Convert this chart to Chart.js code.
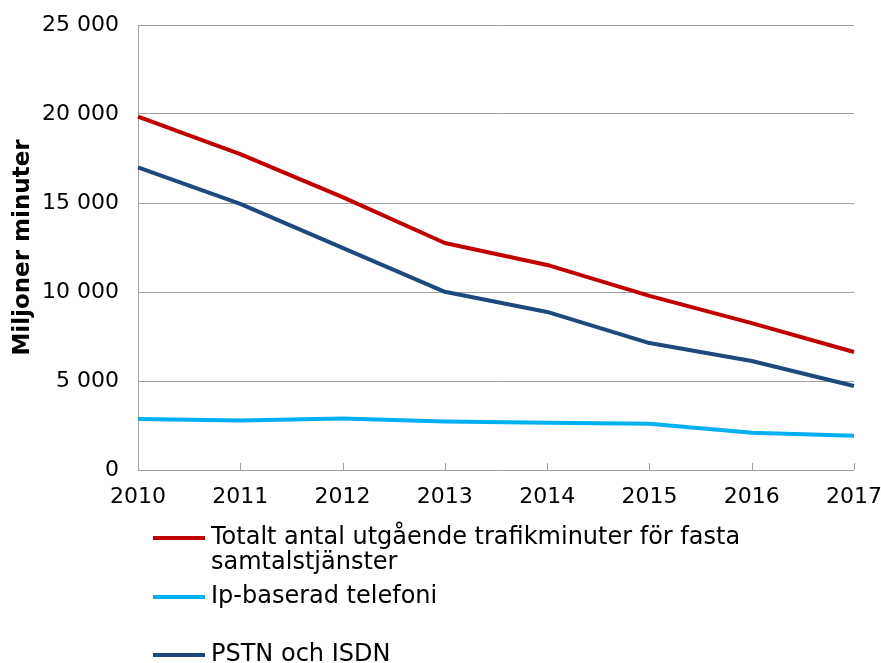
<!DOCTYPE html>
<html>
<head>
<meta charset="utf-8">
<script src="https://cdn.jsdelivr.net/npm/chart.js@4/dist/chart.umd.min.js"></script>
<style>
  body { margin: 0; background: #fff; }
  #wrap { position: relative; width: 881px; height: 663px; }
  #legend { position: absolute; left: 153px; top: 524px; font-family: "DejaVu Sans", Verdana, sans-serif; font-size: 24px; color: #000; }
  .item { position: absolute; left: 0; white-space: nowrap; line-height: 25px; }
  .swatch { position: absolute; left: 0; top: 12px; width: 52px; height: 4px; }
  .label { position: absolute; left: 58px; top: 0; }
</style>
</head>
<body>
<div id="wrap">
  <canvas id="myChart" width="881" height="663"></canvas>
  <div id="legend"></div>
</div>
<script>
const years = ["2010", "2011", "2012", "2013", "2014", "2015", "2016", "2017"];
const totalt = [19850, 17750, 15330, 12750, 11520, 9780, 8250, 6630];
const ipTelefoni = [2870, 2780, 2890, 2720, 2650, 2600, 2090, 1920];
const pstnIsdn = [17000, 14950, 12480, 10010, 8880, 7130, 6120, 4720];

const seriesNames = [
  "Totalt antal utgående trafikminuter för fasta\nsamtalstjänster",
  "Ip-baserad telefoni",
  "PSTN och ISDN",
];
const seriesColors = ["#C00000", "#00B0F0", "#1F497D"];
const legendTops = [0, 59, 117];

const grey = "#a0a0a0";
const font = "'DejaVu Sans', Verdana, sans-serif";

function spaced(v) {
  return String(v).replace(/\B(?=(\d{3})+(?!\d))/g, " ");
}

// small tick marks pointing up into the plot, like the original
const innerTicks = {
  id: "innerTicks",
  beforeDatasetsDraw(chart) {
    const x = chart.scales.x;
    const ctx = chart.ctx;
    const bottom = chart.chartArea.bottom;
    ctx.save();
    ctx.strokeStyle = grey;
    ctx.lineWidth = 1;
    x.ticks.forEach((t, i) => {
      const px = Math.round(x.getPixelForTick(i)) + 0.5;
      ctx.beginPath();
      ctx.moveTo(px, bottom);
      ctx.lineTo(px, bottom - 7);
      ctx.stroke();
    });
    ctx.restore();
  },
};

function createChart() {
  const ctx = document.getElementById("myChart").getContext("2d");
  const values = [totalt, ipTelefoni, pstnIsdn];
  const chart = new Chart(ctx, {
    type: "line",
    data: {
      labels: years,
      datasets: values.map((data, i) => ({
        label: seriesNames[i],
        data: data,
        borderColor: seriesColors[i],
        backgroundColor: seriesColors[i],
        borderWidth: 4,
        pointRadius: 0,
        tension: 0,
        borderJoinStyle: "round",
        fill: false,
      })),
    },
    options: {
      responsive: false,
      animation: false,
      layout: { padding: { left: 7, top: 25, right: 27, bottom: 0 } },
      plugins: {
        legend: { display: false },
        tooltip: { enabled: false },
      },
      scales: {
        x: {
          offset: false,
          grid: { display: false, drawTicks: false },
          border: { display: false },
          ticks: {
            color: "#000",
            font: { family: font, size: 22 },
            padding: 14,
            maxRotation: 0,
          },
          afterFit: (s) => {
            s.height = 663 - 470;
            s.paddingLeft = 0;
            s.paddingRight = 0;
          },
        },
        y: {
          min: 0,
          max: 25000,
          grid: { color: grey, drawTicks: false, lineWidth: 1 },
          border: { color: grey },
          ticks: {
            stepSize: 5000,
            color: "#000",
            font: { family: font, size: 22 },
            padding: 19,
            callback: (v) => spaced(v),
          },
          title: {
            display: true,
            text: "Miljoner minuter",
            color: "#000",
            font: { family: font, size: 23, weight: "bold" },
            padding: { top: 2, bottom: 4 },
          },
          afterFit: (s) => {
            s.width = 138 - 7;
            s.paddingTop = 0;
            s.paddingBottom = 0;
          },
        },
      },
    },
    plugins: [innerTicks],
  });

  // legend below the chart, built from the datasets
  const legend = document.getElementById("legend");
  chart.data.datasets.forEach((ds, i) => {
    const item = document.createElement("div");
    item.className = "item";
    item.style.top = legendTops[i] + "px";
    const sw = document.createElement("div");
    sw.className = "swatch";
    sw.style.background = ds.borderColor;
    const lb = document.createElement("div");
    lb.className = "label";
    lb.innerHTML = ds.label.split("\n").join("<br>");
    item.appendChild(sw);
    item.appendChild(lb);
    legend.appendChild(item);
  });
}

createChart();
</script>
</body>
</html>
